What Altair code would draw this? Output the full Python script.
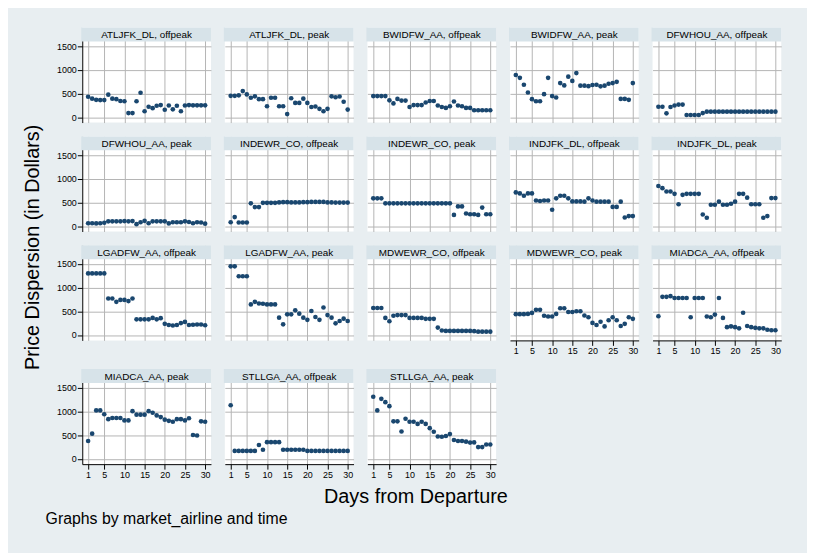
import altair as alt
import pandas as pd

days = [1, 2, 3, 4, 5, 6, 7, 8, 9, 10, 11, 12, 13, 14, 15,
        16, 17, 18, 19, 20, 21, 22, 23, 24, 25, 26, 27, 28, 29, 30]

panel_titles = [
    "ATLJFK_DL, offpeak", "ATLJFK_DL, peak", "BWIDFW_AA, offpeak", "BWIDFW_AA, peak", "DFWHOU_AA, offpeak",
    "DFWHOU_AA, peak", "INDEWR_CO, offpeak", "INDEWR_CO, peak", "INDJFK_DL, offpeak", "INDJFK_DL, peak",
    "LGADFW_AA, offpeak", "LGADFW_AA, peak", "MDWEWR_CO, offpeak", "MDWEWR_CO, peak", "MIADCA_AA, offpeak",
    "MIADCA_AA, peak", "STLLGA_AA, offpeak", "STLLGA_AA, peak",
]

atljfk_dl_offpeak = [430, 390, 365, 360, 360, 475, 390, 380, 340, 335, 85, 85, 335, 515, 125,
                     220, 190, 240, 255, 155, 245, 165, 240, 125, 245, 255, 250, 250, 250, 250]
atljfk_dl_peak = [450, 450, 460, 550, 480, 410, 440, 380, 380, 230, 410, 410, 230, 230, 65,
                  400, 300, 300, 390, 300, 215, 225, 175, 125, 175, 440, 420, 435, 325, 160]
bwidfw_aa_offpeak = [445, 445, 445, 445, 355, 290, 385, 350, 350, 215, 255, 255, 255, 310, 340,
                     340, 245, 215, 195, 230, 330, 245, 230, 195, 195, 145, 145, 145, 145, 145]
bwidfw_aa_peak = [890, 830, 685, 520, 380, 335, 335, 485, 830, 445, 415, 720, 670, 855, 765,
                  930, 665, 665, 655, 680, 685, 650, 665, 705, 720, 745, 385, 385, 365, 720]
dfwhou_aa_offpeak = [220, 220, 80, 215, 245, 265, 265, 45, 45, 45, 45, 85, 115, 115, 115,
                     115, 115, 115, 115, 115, 115, 115, 115, 115, 115, 115, 115, 115, 115, 115]
dfwhou_aa_peak = [60, 60, 55, 60, 70, 100, 100, 100, 100, 105, 100, 105, 40, 80, 110,
                  60, 100, 100, 100, 100, 55, 80, 80, 80, 100, 85, 60, 80, 75, 50]
indewr_co_offpeak = [80, 190, 75, 75, 75, 480, 400, 400, 490, 490, 490, 490, 500, 505, 505,
                     500, 500, 500, 505, 505, 510, 510, 510, 510, 500, 500, 495, 495, 495, 495]
indewr_co_peak = [585, 585, 585, 480, 480, 480, 480, 480, 480, 480, 480, 480, 480, 480, 480,
                  480, 480, 480, 480, 480, 235, 415, 415, 265, 250, 250, 235, 390, 250, 250]
indjfk_dl_offpeak = [710, 690, 640, 690, 690, 540, 530, 540, 540, 345, 585, 640, 640, 585, 520,
                     520, 520, 515, 585, 540, 515, 515, 515, 515, 405, 405, 515, 180, 210, 210]
indjfk_dl_peak = [845, 800, 730, 730, 680, 460, 660, 680, 680, 680, 680, 245, 175, 450, 450,
                  515, 450, 450, 470, 515, 680, 680, 600, 460, 460, 460, 175, 210, 590, 590]
lgadfw_aa_offpeak = [1300, 1300, 1300, 1300, 1300, 770, 770, 700, 740, 740, 715, 770, 330, 330, 330,
                     330, 360, 330, 355, 235, 210, 200, 210, 250, 275, 210, 215, 220, 220, 205]
lgadfw_aa_peak = [1450, 1450, 1240, 1240, 1240, 645, 700, 665, 660, 645, 645, 645, 365, 225, 435,
                  435, 520, 450, 365, 320, 505, 380, 320, 580, 420, 365, 245, 295, 345, 295]
mdwewr_co_offpeak = [570, 570, 570, 360, 290, 405, 420, 420, 420, 360, 360, 360, 360, 340, 340,
                     340, 155, 95, 85, 85, 85, 85, 85, 85, 85, 80, 70, 70, 70, 70]
mdwewr_co_peak = [440, 440, 440, 445, 465, 530, 530, 405, 390, 390, 445, 565, 565, 485, 485,
                  500, 500, 410, 375, 255, 210, 280, 180, 310, 375, 310, 190, 235, 375, 340]
miadca_aa_offpeak = [395, 805, 805, 820, 780, 780, 780, 780, 375, 780, 780, 780, 390, 375, 430,
                     780, 360, 165, 180, 165, 140, 470, 190, 165, 150, 140, 140, 110, 100, 100]
miadca_aa_peak = [375, 530, 1020, 1020, 940, 835, 860, 860, 860, 810, 810, 1005, 930, 930, 930,
                  1005, 970, 915, 880, 825, 800, 780, 835, 835, 810, 855, 500, 490, 790, 780]
stllga_aa_offpeak = [1130, 165, 165, 165, 165, 165, 165, 290, 190, 350, 350, 350, 350, 190, 190,
                     190, 190, 190, 190, 165, 165, 165, 165, 165, 165, 165, 165, 165, 165, 165]
stllga_aa_peak = [1310, 1020, 1265, 1195, 1110, 790, 790, 575, 845, 780, 780, 735, 780, 735, 645,
                  570, 470, 465, 480, 520, 395, 375, 375, 360, 340, 345, 245, 245, 300, 300]

series = [
    atljfk_dl_offpeak, atljfk_dl_peak, bwidfw_aa_offpeak, bwidfw_aa_peak, dfwhou_aa_offpeak,
    dfwhou_aa_peak, indewr_co_offpeak, indewr_co_peak, indjfk_dl_offpeak, indjfk_dl_peak,
    lgadfw_aa_offpeak, lgadfw_aa_peak, mdwewr_co_offpeak, mdwewr_co_peak, miadca_aa_offpeak,
    miadca_aa_peak, stllga_aa_offpeak, stllga_aa_peak,
]

x_ticks = [1, 5, 10, 15, 20, 25, 30]
y_ticks = [0, 500, 1000, 1500]

FONT = "Liberation Sans"
NAVY = "#1a476f"
BG = "#e8eef1"
STRIP = "#d7e3e9"
GRID = "#b4b4b4"
PW = 130
PH = 96   # plot (82) + strip (14)
SH = 14


def make_axis(vals, show):
    if show:
        return alt.Axis(values=vals, title=None, grid=True, gridColor=GRID, gridWidth=1,
                        domain=True, domainColor="black", domainWidth=1,
                        ticks=True, tickColor="black", tickSize=5, tickWidth=1,
                        labels=True, labelFont=FONT, labelFontSize=9, labelColor="black",
                        labelPadding=1, labelAngle=0, labelOverlap=False, labelFlush=False,
                        format="d", minExtent=0)
    return alt.Axis(values=vals, title=None, grid=True, gridColor=GRID, gridWidth=1,
                    domain=False, ticks=False, labels=False, minExtent=0, maxExtent=0)


def panel(idx, show_x, show_y):
    df = pd.DataFrame({"day": days, "price": series[idx]})
    pts = alt.Chart(df).mark_circle(size=22, color=NAVY, opacity=1).encode(
        x=alt.X("day:Q", scale=alt.Scale(domain=[-0.45, 31.45], nice=False, zero=False),
                axis=make_axis(x_ticks, show_x)),
        y=alt.Y("price:Q", scale=alt.Scale(domain=[-115, 1893], nice=False, zero=False),
                axis=make_axis(y_ticks, show_y)),
    )
    lab = pd.DataFrame({"label": [panel_titles[idx]]})
    strip = alt.Chart(lab).mark_rect(color=STRIP).encode(
        x=alt.value(-1), x2=alt.value(PW), y=alt.value(0), y2=alt.value(SH)
    )
    txt = alt.Chart(lab).mark_text(font=FONT, fontSize=10, color="black", baseline="middle",
                                   align="center").encode(
        text="label:N", x=alt.value(PW / 2), y=alt.value(SH / 2 + 0.5)
    )
    return alt.layer(pts, strip, txt).properties(
        width=PW, height=PH, view=alt.ViewBackground(fill="white", stroke=None)
    )


rows = []
ncols = 5
n = len(series)
for r in range(4):
    cells = []
    for c in range(ncols):
        i = r * ncols + c
        if i >= n:
            continue
        below = i + ncols
        show_x = below >= n
        show_y = c == 0
        cells.append(panel(i, show_x, show_y))
    rows.append(alt.hconcat(*cells, spacing=13))

grid = alt.vconcat(*rows, spacing=14)

ytitle = alt.Chart(pd.DataFrame({"t": ["Price Dispersion (in Dollars)"]})).mark_text(
    font=FONT, fontSize=20, angle=270, align="center", baseline="middle", color="black"
).encode(text="t:N", x=alt.value(25), y=alt.value(222)).properties(
    width=42, height=440, view=alt.ViewBackground(fill=None, stroke=None)
)

xtitle = alt.Chart(pd.DataFrame({"t": ["Days from Departure"]})).mark_text(
    font=FONT, fontSize=20, align="center", baseline="alphabetic", color="black"
).encode(text="t:N", x=alt.value(412), y=alt.value(24))

note = alt.Chart(pd.DataFrame({"t": ["Graphs by market_airline and time"]})).mark_text(
    font=FONT, fontSize=16, align="left", baseline="alphabetic", color="black"
).encode(text="t:N", x=alt.value(38), y=alt.value(45))

bottom = alt.layer(xtitle, note).properties(
    width=807, height=72, view=alt.ViewBackground(fill=None, stroke=None)
)

chart = alt.vconcat(
    alt.hconcat(ytitle, grid, spacing=6),
    bottom,
    spacing=0,
).configure(
    background=BG,
    padding={"left": 0, "top": 17, "right": 0, "bottom": 0},
).configure_view(stroke=None)

chart.save("out.html", embed_options={"renderer": "svg", "actions": False})
